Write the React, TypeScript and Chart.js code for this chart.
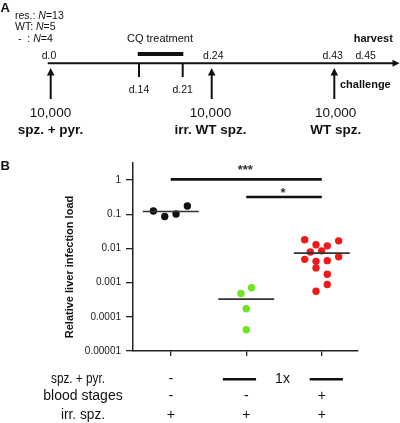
import React, { useEffect, useRef } from 'react';
import { Chart, registerables } from 'chart.js';

Chart.register(...registerables);

// ---------- data ----------
const groupPositions = [1, 2, 3];

const naiveX = [0.77, 0.92, 1.07, 1.22];
const naiveY = [0.125, 0.086, 0.102, 0.175];

const wtX = [2.07, 1.93, 2.0, 2.0];
const wtY = [0.00071, 0.00048, 0.000173, 0.000042];

const resX = [2.774, 2.924, 3.073, 3.224, 2.848, 2.999, 2.774, 2.924, 3.073, 3.224, 2.924, 3.073, 3.073, 2.924];
const resY = [0.0179, 0.0128, 0.0119, 0.0167, 0.0079, 0.0085, 0.0048, 0.0042, 0.0044, 0.0057, 0.0027, 0.00176, 0.00088, 0.00056];

const medians = [0.12, 0.00033, 0.0073];

const yTicks = [1e-5, 1e-4, 1e-3, 1e-2, 1e-1, 1];
const yTickLabels = ['0.00001', '0.0001', '0.001', '0.01', '0.1', '1'];

const sigFrom = [1, 2];
const sigTo = [3, 3];
const sigY = [1.05, 0.32];
const sigLabels = ['***', '*'];

const rowLabels = ['spz. + pyr.', 'blood stages', 'irr. spz.'];
const rowSpzPyr = ['-', '', ''];
const rowBlood = ['-', '-', '+'];
const rowIrr = ['+', '+', '+'];
const onceLabel = '1x';

const nPrefixes = ['res.: ', 'WT: ', '-  : '];
const nValues = ['=13', '=5', '=4'];

const daysAbove = ['d.0', 'd.24', 'd.43', 'd.45'];
const daysBelow = ['d.14', 'd.21'];
const doses = ['10,000', '10,000', '10,000'];
const doseLabels = ['spz. + pyr.', 'irr. WT spz.', 'WT spz.'];
const treatmentLabel = 'CQ treatment';
const harvestLabel = 'harvest';
const challengeLabel = 'challenge';
const yTitle = 'Relative liver infection load';

const FONT = '"Liberation Sans", Arial, sans-serif';

function pts(xs: number[], ys: number[]) {
  return xs.map((x, i) => ({ x, y: ys[i] }));
}

export default function App() {
  const ref = useRef<HTMLCanvasElement | null>(null);

  useEffect(() => {
    const canvas = ref.current;
    if (!canvas) return;

    const txt = (ctx: CanvasRenderingContext2D, s: string, x: number, y: number, font: string, align: CanvasTextAlign = 'center', maxW?: number, color = '#111') => {
      ctx.font = font;
      ctx.textAlign = align;
      ctx.textBaseline = 'alphabetic';
      ctx.fillStyle = color;
      if (maxW) ctx.fillText(s, x, y, maxW);
      else ctx.fillText(s, x, y);
    };

    const upArrow = (ctx: CanvasRenderingContext2D, x: number, yBottom: number, yTip: number) => {
      ctx.strokeStyle = '#111';
      ctx.fillStyle = '#111';
      ctx.lineWidth = 2;
      ctx.beginPath();
      ctx.moveTo(x, yBottom);
      ctx.lineTo(x, yTip + 5);
      ctx.stroke();
      ctx.beginPath();
      ctx.moveTo(x, yTip);
      ctx.lineTo(x - 3.8, yTip + 7.5);
      ctx.lineTo(x + 3.8, yTip + 7.5);
      ctx.closePath();
      ctx.fill();
    };

    const decor = {
      id: 'decor',
      beforeDraw(chart: any) {
        const ctx = chart.ctx as CanvasRenderingContext2D;
        ctx.save();
        ctx.fillStyle = '#fff';
        ctx.fillRect(0, 0, chart.width, chart.height);
        ctx.restore();
      },
      afterDraw(chart: any) {
        const ctx = chart.ctx as CanvasRenderingContext2D;
        const xs = chart.scales.x;
        const ys = chart.scales.y;
        ctx.save();

        // ---------- Panel A ----------
        txt(ctx, 'A', 0.5, 12, `bold 13px ${FONT}`, 'left');
        const nX = [15, 15, 18];
        const nBase = [18.5, 30, 41.5];
        for (let i = 0; i < 3; i++) {
          let x = nX[i];
          ctx.font = `10.5px ${FONT}`;
          txt(ctx, nPrefixes[i], x, nBase[i], `10.5px ${FONT}`, 'left');
          ctx.font = `10.5px ${FONT}`;
          x += ctx.measureText(nPrefixes[i]).width;
          txt(ctx, 'N', x, nBase[i], `italic 10.5px ${FONT}`, 'left');
          ctx.font = `italic 10.5px ${FONT}`;
          x += ctx.measureText('N').width;
          txt(ctx, nValues[i], x, nBase[i], `10.5px ${FONT}`, 'left');
        }

        // timeline
        const tlY = 63.3;
        ctx.strokeStyle = '#111';
        ctx.fillStyle = '#111';
        ctx.lineWidth = 2;
        ctx.beginPath();
        ctx.moveTo(47.7, tlY);
        ctx.lineTo(394, tlY);
        ctx.stroke();
        ctx.beginPath();
        ctx.moveTo(399.5, tlY);
        ctx.lineTo(392.5, tlY - 3.5);
        ctx.lineTo(392.5, tlY + 3.5);
        ctx.closePath();
        ctx.fill();

        // CQ treatment
        txt(ctx, treatmentLabel, 160, 42, `11px ${FONT}`);
        ctx.fillStyle = '#111';
        ctx.fillRect(137.7, 52, 45.6, 4);
        const belowX = [139, 182.7];
        belowX.forEach((x, i) => {
          ctx.strokeStyle = '#111';
          ctx.lineWidth = 2;
          ctx.beginPath();
          ctx.moveTo(x, tlY);
          ctx.lineTo(x, 77);
          ctx.stroke();
          txt(ctx, daysBelow[i], x, 93.3, `10.5px ${FONT}`);
        });

        const aboveX = [49, 213.3, 332.7, 365.7];
        daysAbove.forEach((d, i) => txt(ctx, d, aboveX[i], 59.3, `10.5px ${FONT}`));
        txt(ctx, harvestLabel, 373.3, 42, `bold 11px ${FONT}`);

        const arrowX = [50.7, 211.7, 334.3];
        const labelX = [50.5, 210.5, 335.7];
        arrowX.forEach((x, i) => {
          upArrow(ctx, x, 99, 68);
          txt(ctx, doses[i], labelX[i], 116.7, `13.5px ${FONT}`);
          txt(ctx, doseLabels[i], labelX[i], 134, `bold 13.5px ${FONT}`);
        });
        txt(ctx, challengeLabel, 340, 87.5, `bold 11px ${FONT}`, 'left');

        // ---------- Panel B ----------
        txt(ctx, 'B', 0.5, 170, `bold 13px ${FONT}`, 'left');

        ctx.save();
        ctx.translate(69.7, 267);
        ctx.rotate(-Math.PI / 2);
        ctx.font = `bold 11px ${FONT}`;
        ctx.textAlign = 'center';
        ctx.textBaseline = 'middle';
        ctx.fillStyle = '#111';
        ctx.fillText(yTitle, 0, 0, 150);
        ctx.restore();

        // significance stars
        const starOffset = [-5, -0.5];
        sigLabels.forEach((s, i) => {
          const x = (xs.getPixelForValue(sigFrom[i]) + xs.getPixelForValue(sigTo[i])) / 2;
          const y = ys.getPixelForValue(sigY[i]) + starOffset[i];
          txt(ctx, s, x - 1, y, `bold 13px ${FONT}`, 'center', undefined, '#333');
        });

        // table below
        const rowBase = [383, 399.5, 418.5];
        const labelCx = [78, 83, 83];
        const labelMax = [54, 84, 44];
        rowLabels.forEach((l, i) => txt(ctx, l, labelCx[i], rowBase[i], `14px ${FONT}`, 'center', labelMax[i]));
        const rows = [rowSpzPyr, rowBlood, rowIrr];
        rows.forEach((row, r) => {
          row.forEach((s, c) => {
            if (s) txt(ctx, s, xs.getPixelForValue(groupPositions[c]), rowBase[r], `14px ${FONT}`);
          });
        });
        ctx.strokeStyle = '#111';
        ctx.lineWidth = 2.5;
        const barY = 379.3;
        [[1.69, 2.13], [2.84, 3.28]].forEach(([a, b]) => {
          ctx.beginPath();
          ctx.moveTo(xs.getPixelForValue(a), barY);
          ctx.lineTo(xs.getPixelForValue(b), barY);
          ctx.stroke();
        });
        txt(ctx, onceLabel, xs.getPixelForValue(2.48), rowBase[0], `14px ${FONT}`);

        ctx.restore();
      },
    };

    const scatterSet = (xsArr: number[], ysArr: number[], color: string) => ({
      data: pts(xsArr, ysArr),
      backgroundColor: color,
      borderColor: color,
      pointRadius: 3.7,
      pointHoverRadius: 3.7,
      pointBorderWidth: 0,
      showLine: false,
    });

    const lineSet = (x0: number, x1: number, y: number, color: string, width: number) => ({
      data: [{ x: x0, y }, { x: x1, y }],
      showLine: true,
      borderColor: color,
      backgroundColor: color,
      borderWidth: width,
      pointRadius: 0,
      pointHoverRadius: 0,
      fill: false,
    });

    const half = 0.37;
    const datasets: any[] = [
      ...medians.map((m, i) => lineSet(groupPositions[i] - half, groupPositions[i] + half, m, '#333', 1.6)),
      ...sigLabels.map((_, i) => lineSet(sigFrom[i], sigTo[i], sigY[i], '#111', 2.6)),
      scatterSet(naiveX, naiveY, '#111111'),
      scatterSet(wtX, wtY, '#6ce620'),
      scatterSet(resX, resY, '#ee1a1a'),
    ];

    const chart = new Chart(canvas, {
      type: 'scatter',
      data: { datasets },
      options: {
        animation: false,
        responsive: false,
        devicePixelRatio: 1,
        layout: { padding: { left: 0, top: 163, right: 42, bottom: 0 } },
        plugins: { legend: { display: false }, tooltip: { enabled: false } },
        events: [],
        scales: {
          x: {
            type: 'linear',
            min: 0.5,
            max: 3.48,
            afterBuildTicks: (s: any) => {
              s.ticks = groupPositions.map((v) => ({ value: v }));
            },
            afterFit: (s: any) => {
              s.height = 72;
            },
            grid: { drawOnChartArea: false, drawTicks: true, tickLength: 5, color: '#222', lineWidth: 1.3 },
            border: { display: true, color: '#222', width: 1.5 },
            ticks: { callback: () => '', autoSkip: false },
          },
          y: {
            type: 'logarithmic',
            min: 1e-5,
            max: Math.pow(10, 0.5),
            afterBuildTicks: (s: any) => {
              s.ticks = yTicks.map((v) => ({ value: v }));
            },
            afterFit: (s: any) => {
              s.width = 133;
            },
            grid: { drawOnChartArea: false, drawTicks: true, tickLength: 7, color: '#222', lineWidth: 1.3 },
            border: { display: true, color: '#222', width: 1.5 },
            ticks: {
              autoSkip: false,
              padding: 5,
              color: '#1a1a1a',
              font: { family: FONT, size: 10 },
              callback: (v: any) => {
                const idx = yTicks.findIndex((t) => Math.abs(Math.log10(t) - Math.log10(Number(v))) < 1e-6);
                return idx >= 0 ? yTickLabels[idx] : '';
              },
            },
          },
        },
      },
      plugins: [decor],
    } as any);

    return () => chart.destroy();
  }, []);

  return (
    <div style={{ position: 'absolute', left: 0, top: 0, width: 400, height: 423 }}>
      <canvas ref={ref} width={400} height={423} style={{ display: 'block', width: 400, height: 423 }} />
    </div>
  );
}
